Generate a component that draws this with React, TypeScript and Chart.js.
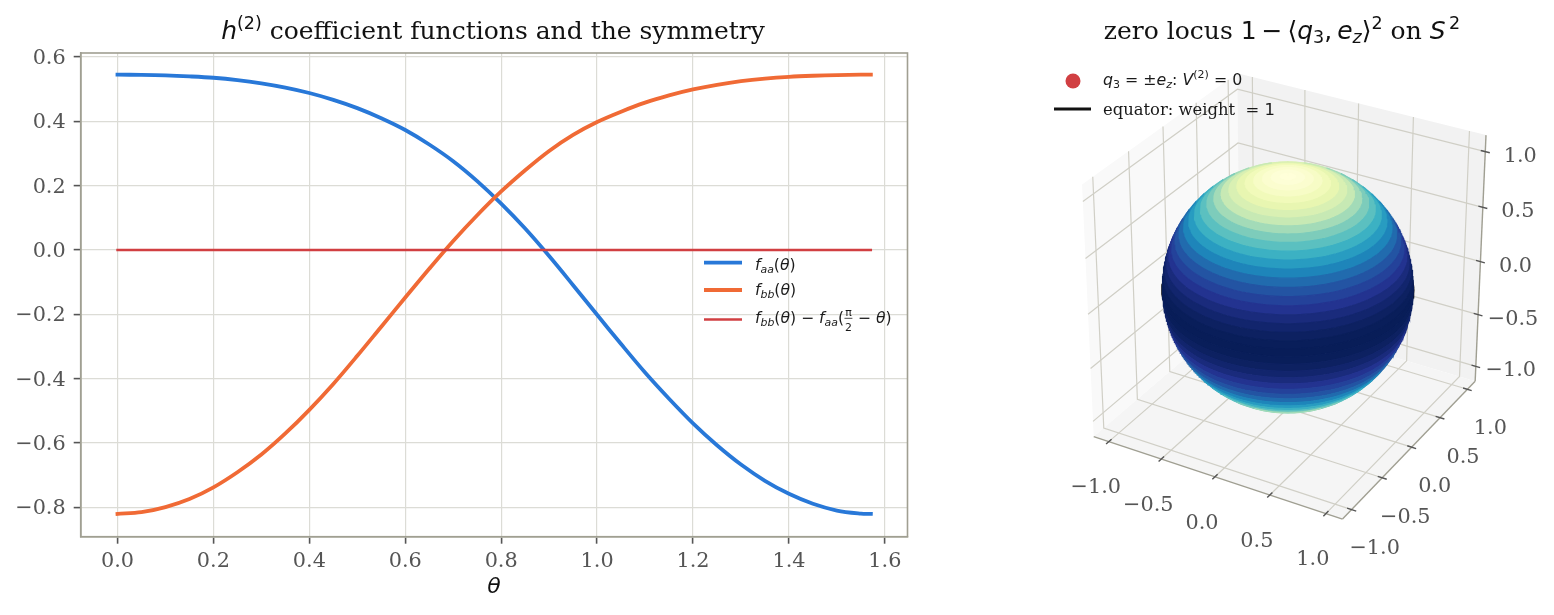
import React, { useEffect, useRef } from "react";
import { Chart, registerables } from "chart.js";

Chart.register(...registerables);

const SERIF = '"DejaVu Serif"';
const SANS = '"DejaVu Sans"';

// ---------- left panel data ----------
const thetaValues = [0, 0.05, 0.1, 0.15, 0.2, 0.25, 0.3, 0.35, 0.4, 0.45, 0.5, 0.55, 0.6, 0.65, 0.7, 0.75, 0.8, 0.85, 0.9, 0.95, 1.0, 1.05, 1.1, 1.15, 1.2, 1.25, 1.3, 1.35, 1.4, 1.45, 1.5, 1.55, 1.5708];
const fAaValues = [0.545, 0.5444, 0.5428, 0.5397, 0.5354, 0.5282, 0.518, 0.5048, 0.488, 0.4667, 0.441, 0.4096, 0.373, 0.328, 0.276, 0.2142, 0.144, 0.0665, -0.019, -0.1095, -0.2015, -0.2925, -0.381, -0.4625, -0.539, -0.607, -0.667, -0.7175, -0.758, -0.789, -0.81, -0.8196, -0.8205];
const fBbValues = [-0.8205, -0.8153, -0.7995, -0.7745, -0.738, -0.691, -0.636, -0.5705, -0.497, -0.4165, -0.329, -0.2385, -0.148, -0.0585, 0.028, 0.108, 0.182, 0.248, 0.308, 0.358, 0.398, 0.43, 0.458, 0.4805, 0.499, 0.5135, 0.525, 0.533, 0.5384, 0.5417, 0.5439, 0.5449, 0.545];
const symmetryGap = [0, 0, 0, 0, 0, 0, 0, 0, 0, 0, 0, 0, 0, 0, 0, 0, 0, 0, 0, 0, 0, 0, 0, 0, 0, 0, 0, 0, 0, 0, 0, 0, 0];
const xTickStep = 0.2;
const yTickStep = 0.2;

// ---------- right panel data ----------
const ticks3d = [-1, -0.5, 0, 0.5, 1];
const tickLabels3d = ["−1.0", "−0.5", "0.0", "0.5", "1.0"];
const latitudeEdgesDeg = [90, 86, 82, 78, 74, 70, 66, 62, 58, 54, 50, 46, 42, 38, 34, 30, 26, 22, 18, 14, 10, 6, 2, -2, -6, -10, -14, -18, -22, -26, -30, -34, -38, -42, -46, -50, -54, -58, -62, -66, -70, -74, -78, -82, -86, -90];
const northWeights = [0.0012, 0.0109, 0.0302, 0.0585, 0.0955, 0.1403, 0.1922, 0.25, 0.3127, 0.379, 0.4477, 0.5175, 0.5868, 0.6545, 0.7192, 0.7796, 0.8346, 0.883, 0.924, 0.9568, 0.9806, 0.9951];
const bandWeights = [...northWeights, 1, ...northWeights.slice().reverse()];
const poleZ = [1, -1];
const ylGnBu = [
  [255, 255, 217], [237, 248, 177], [199, 233, 180], [127, 205, 187], [65, 182, 196],
  [29, 145, 192], [34, 94, 168], [37, 52, 148], [8, 29, 88],
];

// ---------- text ----------
type Run = { t?: string; k?: "s" | "r" | "i"; v?: "sup" | "sub"; num?: string; den?: string };
const leftTitle: Run[] = [
  { t: "h", k: "i" }, { t: "(2)", k: "r", v: "sup" },
  { t: " coefficient functions and the symmetry", k: "s" },
];
const rightTitle: Run[] = [
  { t: "zero locus ", k: "s" }, { t: "1\u2009−\u2009⟨", k: "r" }, { t: "q", k: "i" }, { t: "3", k: "r", v: "sub" },
  { t: ",\u2009", k: "r" }, { t: "e", k: "i" }, { t: "z", k: "i", v: "sub" }, { t: "⟩", k: "r" }, { t: "2", k: "r", v: "sup" },
  { t: " on ", k: "s" }, { t: "S", k: "i" }, { t: "\u20092", k: "r", v: "sup" },
];
const legendAa: Run[] = [{ t: "f", k: "i" }, { t: "aa", k: "i", v: "sub" }, { t: "(", k: "r" }, { t: "θ", k: "i" }, { t: ")", k: "r" }];
const legendBb: Run[] = [{ t: "f", k: "i" }, { t: "bb", k: "i", v: "sub" }, { t: "(", k: "r" }, { t: "θ", k: "i" }, { t: ")", k: "r" }];
const legendGap: Run[] = [
  ...legendBb, { t: " − ", k: "r" }, { t: "f", k: "i" }, { t: "aa", k: "i", v: "sub" }, { t: "(", k: "r" },
  { num: "π", den: "2" }, { t: " − ", k: "r" }, { t: "θ", k: "i" }, { t: ")", k: "r" },
];
const legendPoles: Run[] = [
  { t: "q", k: "i" }, { t: "3", k: "r", v: "sub" }, { t: " = ±", k: "r" }, { t: "e", k: "i" }, { t: "z", k: "i", v: "sub" },
  { t: ": ", k: "r" }, { t: "V", k: "i" }, { t: "(2)", k: "r", v: "sup" }, { t: " = 0", k: "r" },
];
const legendEquator: Run[] = [{ t: "equator: weight ", k: "s" }, { t: " = 1", k: "r" }];

// ---------- colours ----------
const BLUE = "#2878d8";
const ORANGE = "#f06a35";
const RED = "#d13f42";
const SPINE = "#a09f92";
const GRID = "#dcdcd6";
const TICK_TEXT = "#555555";

// ---------- rich text ----------
function fontFor(k: string | undefined, size: number) {
  if (k === "i") return `italic ${size}px ${SANS}`;
  if (k === "r") return `${size}px ${SANS}`;
  return `${size}px ${SERIF}`;
}
function runWidth(ctx: CanvasRenderingContext2D, r: Run, size: number) {
  if (r.num !== undefined) {
    ctx.font = fontFor("r", size * 0.7);
    return Math.max(ctx.measureText(r.num).width, ctx.measureText(r.den!).width) + 2;
  }
  ctx.font = fontFor(r.k, r.v ? size * 0.7 : size);
  return ctx.measureText(r.t!).width;
}
function drawRich(ctx: CanvasRenderingContext2D, runs: Run[], x: number, y: number, size: number, color: string, centre = false) {
  ctx.save();
  ctx.fillStyle = color;
  ctx.strokeStyle = color;
  ctx.textAlign = "left";
  ctx.textBaseline = "alphabetic";
  let total = 0;
  for (const r of runs) total += runWidth(ctx, r, size);
  let cur = centre ? x - total / 2 : x;
  for (const r of runs) {
    const w = runWidth(ctx, r, size);
    if (r.num !== undefined) {
      ctx.font = fontFor("r", size * 0.7);
      ctx.textAlign = "center";
      ctx.fillText(r.num, cur + w / 2, y - size * 0.42);
      ctx.fillText(r.den!, cur + w / 2, y + size * 0.52);
      ctx.textAlign = "left";
      ctx.lineWidth = 0.8;
      ctx.beginPath();
      ctx.moveTo(cur + 0.5, y - size * 0.3);
      ctx.lineTo(cur + w - 0.5, y - size * 0.3);
      ctx.stroke();
    } else {
      ctx.font = fontFor(r.k, r.v ? size * 0.7 : size);
      const dy = r.v === "sup" ? -size * 0.42 : r.v === "sub" ? size * 0.17 : 0;
      ctx.fillText(r.t!, cur, y + dy);
    }
    cur += w;
  }
  ctx.restore();
}
const minusFmt = (v: number) => {
  const s = Math.abs(v).toFixed(1);
  return v < -1e-9 ? "−" + s : s;
};

// ---------- left chart ----------
const leftOverlay = {
  id: "leftOverlay",
  afterDraw(chart: any) {
    const { ctx, chartArea: a } = chart;
    ctx.save();
    ctx.strokeStyle = SPINE;
    ctx.lineWidth = 1.6;
    ctx.strokeRect(a.left, a.top, a.right - a.left, a.bottom - a.top);
    const rows: [Run[], string, number, number, number][] = [
      [legendAa, BLUE, 3.8, 262.7, 270],
      [legendBb, ORANGE, 3.8, 290, 295],
      [legendGap, RED, 2.4, 319.5, 323],
    ];
    for (const [runs, color, w, ly, ty] of rows) {
      ctx.strokeStyle = color;
      ctx.lineWidth = w;
      ctx.beginPath();
      ctx.moveTo(704, ly);
      ctx.lineTo(742, ly);
      ctx.stroke();
      drawRich(ctx, runs, 755, ty, 15.6, "#1a1a1a");
    }
    ctx.restore();
    drawRich(ctx, leftTitle, 493, 39, 25, "#111111", true);
  },
};

function buildLeft(canvas: HTMLCanvasElement) {
  const pts = (ys: number[]) => thetaValues.map((x, i) => ({ x, y: ys[i] }));
  const line = (label: string, ys: number[], color: string, w: number) => ({
    label, data: pts(ys), borderColor: color, backgroundColor: color, borderWidth: w,
    pointRadius: 0, tension: 0.33, showLine: true, borderCapStyle: "square" as const,
  });
  return new Chart(canvas, {
    type: "scatter",
    data: {
      datasets: [
        line("f_bb(θ) − f_aa(π/2 − θ)", symmetryGap, RED, 2.4),
        line("f_bb(θ)", fBbValues, ORANGE, 3.8),
        line("f_aa(θ)", fAaValues, BLUE, 3.8),
      ],
    },
    options: {
      animation: false,
      responsive: false,
      devicePixelRatio: 1,
      layout: { padding: { left: 0, right: 52.5, top: 53, bottom: 0 } },
      plugins: { legend: { display: false }, title: { display: false }, tooltip: { enabled: false } },
      scales: {
        x: {
          type: "linear",
          min: -0.0767,
          max: 1.6472,
          afterFit: (s: any) => { s.height = 78.3; },
          border: { color: SPINE, width: 1.6 },
          grid: { color: GRID, lineWidth: 1.2, tickColor: "#555555", tickLength: 7, tickWidth: 1.6 } as any,
          ticks: {
            stepSize: xTickStep, includeBounds: false, maxRotation: 0, padding: 5,
            color: TICK_TEXT, font: { family: SERIF, size: 20.8 }, callback: (v: any) => minusFmt(Number(v)),
          },
          title: {
            display: true, text: "θ", color: "#111111",
            font: { family: SANS, size: 22, style: "italic" }, padding: { top: 0, bottom: 15 },
          },
        },
        y: {
          type: "linear",
          min: -0.8914,
          max: 0.6124,
          afterFit: (s: any) => { s.width = 80.7; },
          border: { color: SPINE, width: 1.6 },
          grid: { color: GRID, lineWidth: 1.2, tickColor: "#555555", tickLength: 7, tickWidth: 1.6 } as any,
          ticks: {
            stepSize: yTickStep, includeBounds: false, padding: 8, labelOffset: 1.5,
            color: TICK_TEXT, font: { family: SERIF, size: 20.8 }, callback: (v: any) => minusFmt(Number(v)),
          },
        },
      },
    },
    plugins: [leftOverlay],
  } as any);
}

// ---------- 3D projection (orthonormal view basis + perspective) ----------
const ELEV = (30 * Math.PI) / 180;
const AZIM = (-60 * Math.PI) / 180;
const DIST = 10;
const LIM = 1.1;
const A = LIM * (1 + 1 / 24);
const W = [Math.cos(ELEV) * Math.cos(AZIM), Math.cos(ELEV) * Math.sin(AZIM), Math.sin(ELEV)];
const un = Math.hypot(W[0], W[1]);
const U = [-W[1] / un, W[0] / un, 0];
const V = [W[1] * U[2] - W[2] * U[1], W[2] * U[0] - W[0] * U[2], W[0] * U[1] - W[1] * U[0]];
function project(x: number, y: number, z: number) {
  const p = [x * 0.5, y * 0.5, z * 0.5];
  const d = DIST - (W[0] * p[0] + W[1] * p[1] + W[2] * p[2]);
  return {
    x: (U[0] * p[0] + U[1] * p[1] + U[2] * p[2]) / d,
    y: (V[0] * p[0] + V[1] * p[1] + V[2] * p[2]) / d,
  };
}
const SCALE = 2562;
const CX = 328.5; // canvas-local
const CY = 287;
const K = 0.5 / DIST;

function halfVisible(latDeg: number) {
  const lat = (latDeg * Math.PI) / 180;
  const c = Math.cos(lat) * Math.cos(ELEV);
  if (c < 1e-6) return Math.sin(lat) * Math.sin(ELEV) > K ? Math.PI : -1;
  const v = (K - Math.sin(lat) * Math.sin(ELEV)) / c;
  if (v > 1) return -1;
  if (v < -1) return Math.PI;
  return Math.acos(v);
}
function spherePoint(latDeg: number, delta: number) {
  const lat = (latDeg * Math.PI) / 180;
  const lon = AZIM + delta;
  return project(Math.cos(lat) * Math.cos(lon), Math.cos(lat) * Math.sin(lon), Math.sin(lat));
}
function bandPolygon(a: number, b: number) {
  const out: { x: number; y: number }[] = [];
  const latSteps = 12;
  const lats: number[] = [];
  for (let i = 0; i <= latSteps; i++) lats.push(a + ((b - a) * i) / latSteps);
  const vis = lats.filter((l) => halfVisible(l) >= 0);
  if (vis.length < 2) return out;
  const top = vis[0];
  const bot = vis[vis.length - 1];
  const arc = (lat: number, from: number, to: number) => {
    const n = Math.max(2, Math.ceil(Math.abs(to - from) / 0.04));
    for (let i = 0; i <= n; i++) out.push(spherePoint(lat, from + ((to - from) * i) / n));
  };
  const dTop = halfVisible(top);
  arc(top, -dTop, dTop);
  for (const l of vis) out.push(spherePoint(l, halfVisible(l)));
  const dBot = halfVisible(bot);
  arc(bot, dBot, -dBot);
  for (const l of vis.slice().reverse()) out.push(spherePoint(l, -halfVisible(l)));
  return out;
}
function weightColor(w: number) {
  const t = Math.min(0.99999, Math.max(0, w)) * (ylGnBu.length - 1);
  const i = Math.floor(t);
  const f = t - i;
  const c = ylGnBu[i].map((v, j) => Math.round(v + (ylGnBu[i + 1][j] - v) * f));
  return `rgb(${c[0]},${c[1]},${c[2]})`;
}

const rightOverlay = {
  id: "rightOverlay",
  afterDraw(chart: any) {
    const { ctx, scales } = chart;
    const px = (p: { x: number; y: number }) => [scales.x.getPixelForValue(p.x), scales.y.getPixelForValue(p.y)];
    ctx.save();
    ctx.font = `20.8px ${SERIF}`;
    ctx.fillStyle = TICK_TEXT;
    ctx.textAlign = "center";
    ctx.textBaseline = "middle";
    ticks3d.forEach((t, i) => {
      const s = tickLabels3d[i];
      const [xx, xy] = px(project(t, -A, -A));
      ctx.fillText(s, xx - 13, xy + 46.5);
      const [yx, yy] = px(project(A, t, -A));
      ctx.fillText(s, yx + 23, yy + 39.5);
      const [zx, zy] = px(project(A, A, t));
      ctx.fillText(s, zx + 35, zy + 4.5);
    });
    ctx.fillStyle = RED;
    ctx.beginPath();
    ctx.arc(1073 - 960, 81, 7.5, 0, Math.PI * 2);
    ctx.fill();
    ctx.strokeStyle = "#111111";
    ctx.lineWidth = 2.8;
    ctx.beginPath();
    ctx.moveTo(1054 - 960, 109);
    ctx.lineTo(1091 - 960, 109);
    ctx.stroke();
    ctx.restore();
    drawRich(ctx, legendPoles, 1103 - 960, 85, 15.8, "#1a1a1a");
    drawRich(ctx, legendEquator, 1103 - 960, 115, 16.4, "#1a1a1a");
    drawRich(ctx, rightTitle, 1282 - 960, 39, 25, "#111111", true);
  },
};

function buildRight(canvas: HTMLCanvasElement) {
  const sets: any[] = [];
  const poly = (label: string, data: any[], color: string) =>
    sets.push({ label, data, showLine: true, fill: "shape", backgroundColor: color, borderColor: color, borderWidth: 0, pointRadius: 0, tension: 0 });
  const path = (label: string, data: any[], color: string, w: number) =>
    sets.push({ label, data, showLine: true, fill: false, borderColor: color, backgroundColor: color, borderWidth: w, pointRadius: 0, tension: 0 });

  poly("pane x", [project(-A, -A, -A), project(-A, A, -A), project(-A, A, A), project(-A, -A, A)], "#f9f9f9");
  poly("pane y", [project(-A, A, -A), project(A, A, -A), project(A, A, A), project(-A, A, A)], "#f2f2f2");
  poly("pane z", [project(-A, -A, -A), project(A, -A, -A), project(A, A, -A), project(-A, A, -A)], "#f5f5f5");

  for (const t of ticks3d) {
    path("grid x", [project(t, -A, -A), project(t, A, -A), project(t, A, A)], "#d0cfc6", 1.2);
    path("grid y", [project(A, t, -A), project(-A, t, -A), project(-A, t, A)], "#d0cfc6", 1.2);
    path("grid z", [project(-A, -A, t), project(-A, A, t), project(A, A, t)], "#d0cfc6", 1.2);
  }
  path("axis x", [project(-A, -A, -A), project(A, -A, -A)], "#a09f92", 1.4);
  path("axis y", [project(A, -A, -A), project(A, A, -A)], "#a09f92", 1.4);
  path("axis z", [project(A, A, -A), project(A, A, A)], "#a09f92", 1.4);
  for (const t of ticks3d) {
    path("tick x", [project(t, -A - 0.04, -A), project(t, -A + 0.04, -A)], "#555555", 1.4);
    path("tick y", [project(A - 0.04, t, -A), project(A + 0.04, t, -A)], "#555555", 1.4);
    path("tick z", [project(A - 0.04, A, t), project(A + 0.04, A, t)], "#555555", 1.4);
  }
  const equator: any[] = [];
  for (let d = -180; d <= 180; d += 3) equator.push(spherePoint(0, (d * Math.PI) / 180));
  path("equator: weight = 1", equator, "#111111", 2.6);
  sets.push({
    label: "q3 = ±e_z: V(2) = 0",
    data: poleZ.map((z) => project(0, 0, z)),
    showLine: false, pointRadius: 6.5, pointBackgroundColor: RED, pointBorderWidth: 0,
  });
  bandWeights.forEach((w, i) => {
    const c = weightColor(w);
    const data = bandPolygon(latitudeEdgesDeg[i], latitudeEdgesDeg[i + 1]);
    if (data.length) {
      sets.push({ label: `band ${i}`, data, showLine: true, fill: "shape", backgroundColor: c, borderColor: c, borderWidth: 1.2, pointRadius: 0, tension: 0 });
    }
  });
  const n = sets.length;
  sets.forEach((s, i) => { s.order = n - i; });

  return new Chart(canvas, {
    type: "scatter",
    data: { datasets: sets },
    options: {
      animation: false,
      responsive: false,
      devicePixelRatio: 1,
      layout: { padding: 0 },
      plugins: { legend: { display: false }, title: { display: false }, tooltip: { enabled: false } },
      scales: {
        x: { type: "linear", display: false, min: -CX / SCALE, max: (594 - CX) / SCALE },
        y: { type: "linear", display: false, min: -(615 - CY) / SCALE, max: CY / SCALE },
      },
    },
    plugins: [rightOverlay],
  } as any);
}

export default function App() {
  const leftRef = useRef<HTMLCanvasElement>(null);
  const rightRef = useRef<HTMLCanvasElement>(null);
  useEffect(() => {
    const left = buildLeft(leftRef.current!);
    const right = buildRight(rightRef.current!);
    return () => {
      left.destroy();
      right.destroy();
    };
  }, []);
  return (
    <div style={{ position: "absolute", left: 0, top: 0, width: 1554, height: 615, background: "#fff", overflow: "hidden" }}>
      <canvas ref={leftRef} width={960} height={615} style={{ position: "absolute", left: 0, top: 0, width: 960, height: 615 }} />
      <canvas ref={rightRef} width={594} height={615} style={{ position: "absolute", left: 960, top: 0, width: 594, height: 615 }} />
    </div>
  );
}
